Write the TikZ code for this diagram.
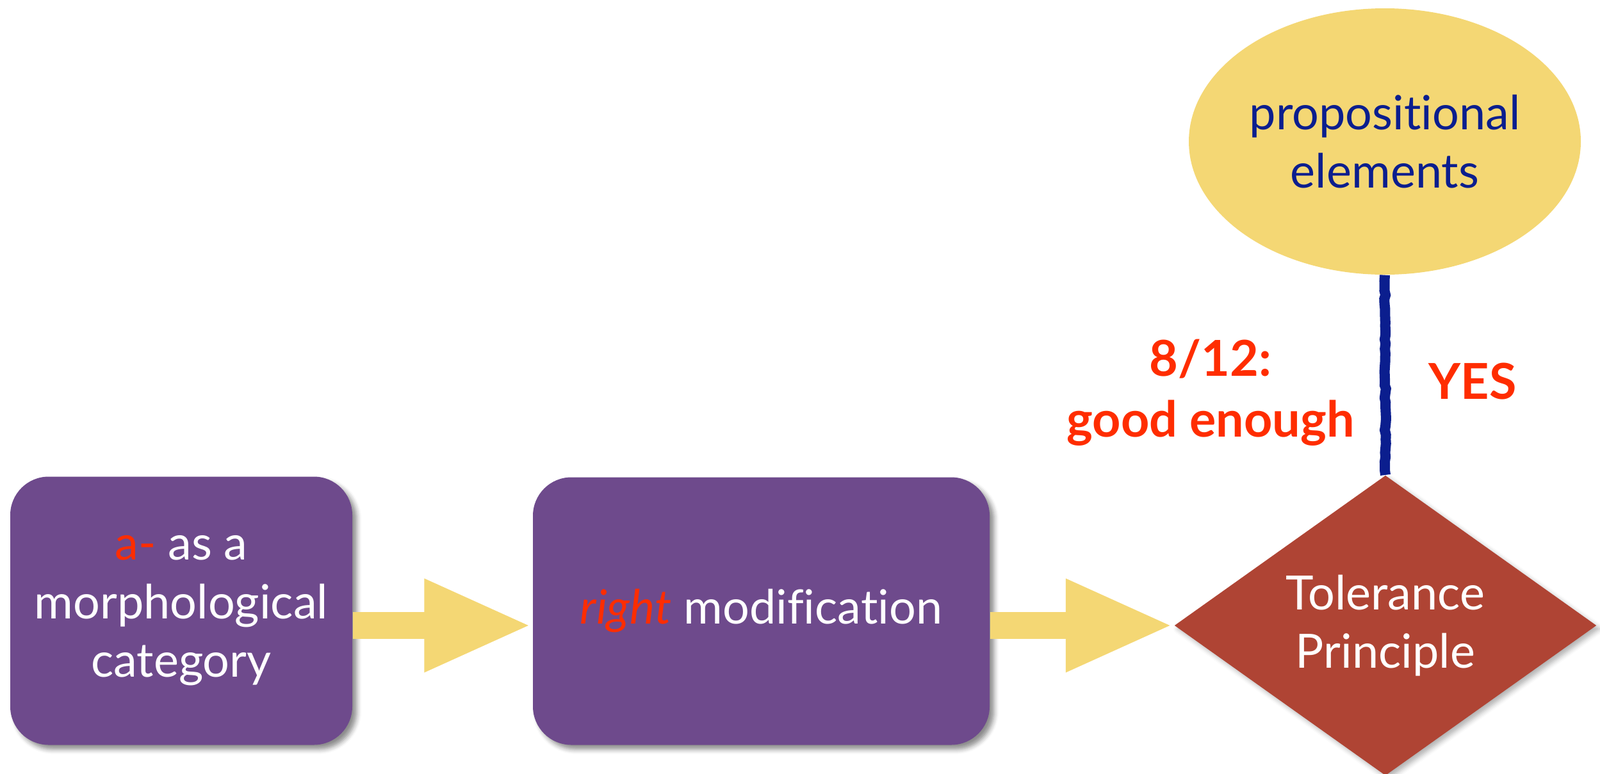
\documentclass[tikz,border=0pt]{standalone}
\usepackage{fontspec}
\setmainfont{Lato}[Ligatures=NoCommon]
\usepackage{tikz}
\usetikzlibrary{shapes.geometric, arrows.meta, decorations.pathmorphing, shadows.blur}
\definecolor{stagepurple}{HTML}{6E4A8C}
\definecolor{flowyellow}{HTML}{F4D774}
\definecolor{gatebrick}{HTML}{AF4434}
\definecolor{verdictred}{HTML}{FF2D00}
\definecolor{propnavy}{HTML}{0B1E8E}
\newcommand{\redbit}[1]{\textcolor{verdictred}{#1}}

\begin{document}
\begin{tikzpicture}[
    stagebox/.style={fill=stagepurple, rounded corners=0.6cm, text=white, align=center,
      font=\fontsize{21}{26}\selectfont,
      blur shadow={shadow xshift=2pt, shadow yshift=-2pt, shadow blur steps=4, shadow opacity=45}},
    gate/.style={diamond, fill=gatebrick, inner sep=0pt, text=white, align=center,
      font=\fontsize{21}{26}\selectfont,
      blur shadow={shadow xshift=1.5pt, shadow yshift=-1.5pt, shadow blur steps=4, shadow opacity=30}},
    propblob/.style={ellipse, fill=flowyellow, inner sep=0pt, text=propnavy, align=center,
      font=\fontsize{21}{26}\selectfont},
    fatflow/.style={flowyellow, line width=0.42cm, -{Triangle[length=1.69cm, width=1.33cm]}},
    stitch/.style={propnavy, line width=0.16cm, decorate,
      decoration={random steps, segment length=2pt, amplitude=0.35pt}},
    verdict/.style={text=verdictred, align=center, font=\fontsize{22}{27}\selectfont\bfseries}
  ]
    \useasboundingbox (0,0) rectangle (24.98,12.08);
    % the three stages along the bottom
    \node[stagebox, minimum width=5.34cm, minimum height=4.19cm] (morph) at (2.83,2.54)
      {\redbit{a-} as a\\morphological\\category};
    \node[stagebox, minimum width=7.13cm, minimum height=4.18cm] (modif) at (11.885,2.535)
      {\redbit{\itshape right} modification};
    \node[gate, minimum width=6.59cm, minimum height=4.52cm] (tolerance) at (21.63,2.31)
      {Tolerance\\Principle};
    % what the principle licenses
    \node[propblob, minimum width=6.12cm, minimum height=4.16cm] (propel) at (21.62,9.87)
      {propositional\\elements};
    % block arrows between the stages
    \draw[fatflow] (morph.east |- tolerance) -- (modif.west |- tolerance);
    \draw[fatflow] (modif.east |- tolerance) -- (tolerance.west);
    % hand drawn link up to the ellipse
    \draw[stitch] (tolerance.north) -- (propel.south);
    \node[verdict] (ratio) at (18.9,5.95) {8/12:\\good enough};
    \node[verdict] (yes) at (22.99,6.12) {YES};
\end{tikzpicture}
\end{document}
